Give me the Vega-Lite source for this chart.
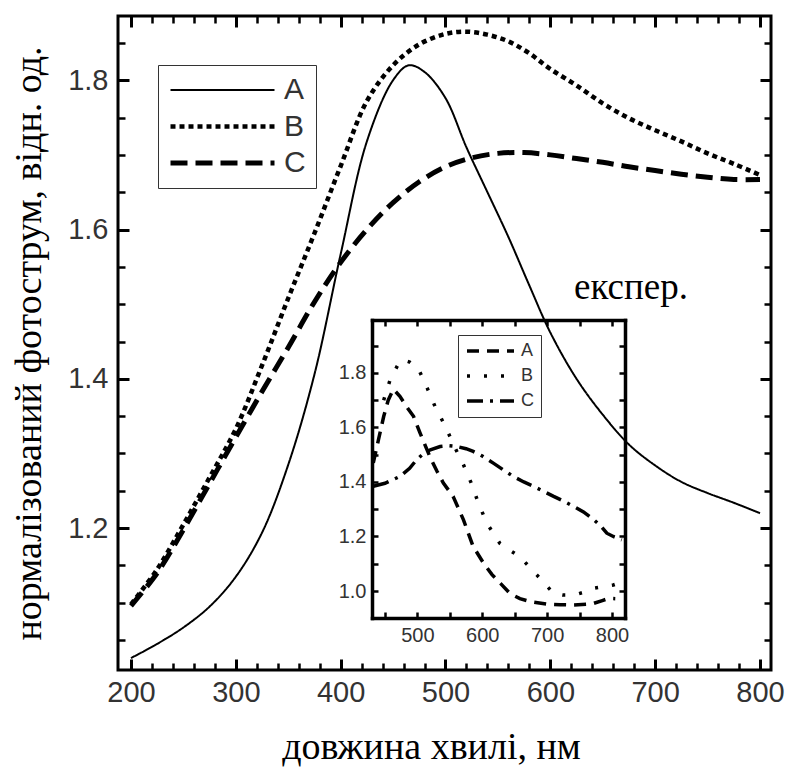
{
  "$schema": "https://vega.github.io/schema/vega-lite/v6.json",
  "autosize": "none",
  "width": 653,
  "height": 654,
  "padding": {"left": 118, "top": 16, "right": 17, "bottom": 99},
  "background": "white",
  "config": {"view": {"stroke": "black", "strokeWidth": 3}},
  "datasets": {
    "main": [
      {"x":200,"y":1.026,"series":"A"},{"x":225,"y":1.045,"series":"A"},{"x":250,"y":1.067,"series":"A"},{"x":275,"y":1.095,"series":"A"},{"x":300,"y":1.135,"series":"A"},{"x":325,"y":1.194,"series":"A"},{"x":350,"y":1.285,"series":"A"},{"x":375,"y":1.406,"series":"A"},{"x":400,"y":1.567,"series":"A"},{"x":425,"y":1.718,"series":"A"},{"x":450,"y":1.80,"series":"A"},{"x":465,"y":1.82,"series":"A"},{"x":480,"y":1.811,"series":"A"},{"x":500,"y":1.776,"series":"A"},{"x":520,"y":1.71,"series":"A"},{"x":540,"y":1.65,"series":"A"},{"x":560,"y":1.59,"series":"A"},{"x":580,"y":1.525,"series":"A"},{"x":600,"y":1.462,"series":"A"},{"x":625,"y":1.40,"series":"A"},{"x":650,"y":1.352,"series":"A"},{"x":675,"y":1.312,"series":"A"},{"x":700,"y":1.284,"series":"A"},{"x":725,"y":1.262,"series":"A"},{"x":750,"y":1.247,"series":"A"},{"x":775,"y":1.234,"series":"A"},{"x":800,"y":1.220,"series":"A"},
      {"x":200,"y":1.098,"series":"B"},{"x":225,"y":1.145,"series":"B"},{"x":250,"y":1.205,"series":"B"},{"x":275,"y":1.268,"series":"B"},{"x":300,"y":1.333,"series":"B"},{"x":325,"y":1.418,"series":"B"},{"x":350,"y":1.508,"series":"B"},{"x":375,"y":1.595,"series":"B"},{"x":400,"y":1.685,"series":"B"},{"x":425,"y":1.772,"series":"B"},{"x":450,"y":1.82,"series":"B"},{"x":475,"y":1.848,"series":"B"},{"x":500,"y":1.862,"series":"B"},{"x":520,"y":1.865,"series":"B"},{"x":540,"y":1.861,"series":"B"},{"x":560,"y":1.852,"series":"B"},{"x":580,"y":1.836,"series":"B"},{"x":600,"y":1.815,"series":"B"},{"x":625,"y":1.793,"series":"B"},{"x":650,"y":1.769,"series":"B"},{"x":675,"y":1.749,"series":"B"},{"x":700,"y":1.733,"series":"B"},{"x":725,"y":1.718,"series":"B"},{"x":750,"y":1.702,"series":"B"},{"x":775,"y":1.688,"series":"B"},{"x":800,"y":1.673,"series":"B"},
      {"x":200,"y":1.096,"series":"C"},{"x":225,"y":1.14,"series":"C"},{"x":250,"y":1.198,"series":"C"},{"x":275,"y":1.26,"series":"C"},{"x":300,"y":1.322,"series":"C"},{"x":325,"y":1.383,"series":"C"},{"x":350,"y":1.442,"series":"C"},{"x":375,"y":1.503,"series":"C"},{"x":400,"y":1.556,"series":"C"},{"x":425,"y":1.60,"series":"C"},{"x":450,"y":1.636,"series":"C"},{"x":475,"y":1.664,"series":"C"},{"x":500,"y":1.684,"series":"C"},{"x":525,"y":1.696,"series":"C"},{"x":550,"y":1.702,"series":"C"},{"x":575,"y":1.703,"series":"C"},{"x":600,"y":1.70,"series":"C"},{"x":625,"y":1.695,"series":"C"},{"x":650,"y":1.69,"series":"C"},{"x":675,"y":1.684,"series":"C"},{"x":700,"y":1.679,"series":"C"},{"x":725,"y":1.674,"series":"C"},{"x":750,"y":1.67,"series":"C"},{"x":775,"y":1.667,"series":"C"},{"x":800,"y":1.667,"series":"C"}
    ],
    "inset": [
      {"x":432,"y":1.47,"series":"A"},{"x":440,"y":1.555,"series":"A"},{"x":448,"y":1.64,"series":"A"},{"x":455,"y":1.70,"series":"A"},{"x":463,"y":1.74,"series":"A"},{"x":473,"y":1.714,"series":"A"},{"x":485,"y":1.67,"series":"A"},{"x":494,"y":1.641,"series":"A"},{"x":504,"y":1.58,"series":"A"},{"x":519,"y":1.494,"series":"A"},{"x":530,"y":1.44,"series":"A"},{"x":540,"y":1.396,"series":"A"},{"x":555,"y":1.347,"series":"A"},{"x":571,"y":1.261,"series":"A"},{"x":586,"y":1.163,"series":"A"},{"x":602,"y":1.102,"series":"A"},{"x":615,"y":1.06,"series":"A"},{"x":628,"y":1.028,"series":"A"},{"x":643,"y":0.99,"series":"A"},{"x":658,"y":0.972,"series":"A"},{"x":674,"y":0.961,"series":"A"},{"x":700,"y":0.952,"series":"A"},{"x":720,"y":0.95,"series":"A"},{"x":741,"y":0.949,"series":"A"},{"x":760,"y":0.951,"series":"A"},{"x":772,"y":0.955,"series":"A"},{"x":785,"y":0.965,"series":"A"},{"x":795,"y":0.973,"series":"A"},{"x":805,"y":0.972,"series":"A"},
      {"x":448,"y":1.70,"series":"B"},{"x":458,"y":1.775,"series":"B"},{"x":470,"y":1.83,"series":"B"},{"x":476,"y":1.849,"series":"B"},{"x":488,"y":1.84,"series":"B"},{"x":501,"y":1.818,"series":"B"},{"x":515,"y":1.745,"series":"B"},{"x":527,"y":1.678,"series":"B"},{"x":543,"y":1.604,"series":"B"},{"x":557,"y":1.53,"series":"B"},{"x":571,"y":1.463,"series":"B"},{"x":584,"y":1.39,"series":"B"},{"x":594,"y":1.322,"series":"B"},{"x":607,"y":1.249,"series":"B"},{"x":627,"y":1.175,"series":"B"},{"x":642,"y":1.15,"series":"B"},{"x":658,"y":1.126,"series":"B"},{"x":684,"y":1.059,"series":"B"},{"x":710,"y":0.991,"series":"B"},{"x":725,"y":0.985,"series":"B"},{"x":741,"y":0.985,"series":"B"},{"x":756,"y":0.995,"series":"B"},{"x":772,"y":1.01,"series":"B"},{"x":787,"y":1.016,"series":"B"},{"x":802,"y":1.022,"series":"B"},{"x":812,"y":1.03,"series":"B"},
      {"x":432,"y":1.384,"series":"C"},{"x":450,"y":1.395,"series":"C"},{"x":473,"y":1.42,"series":"C"},{"x":488,"y":1.45,"series":"C"},{"x":499,"y":1.482,"series":"C"},{"x":510,"y":1.505,"series":"C"},{"x":520,"y":1.518,"series":"C"},{"x":535,"y":1.53,"series":"C"},{"x":548,"y":1.533,"series":"C"},{"x":561,"y":1.53,"series":"C"},{"x":575,"y":1.522,"series":"C"},{"x":586,"y":1.512,"series":"C"},{"x":600,"y":1.495,"series":"C"},{"x":617,"y":1.469,"series":"C"},{"x":632,"y":1.445,"series":"C"},{"x":648,"y":1.42,"series":"C"},{"x":664,"y":1.40,"series":"C"},{"x":679,"y":1.384,"series":"C"},{"x":695,"y":1.365,"series":"C"},{"x":710,"y":1.347,"series":"C"},{"x":725,"y":1.33,"series":"C"},{"x":741,"y":1.31,"series":"C"},{"x":756,"y":1.29,"series":"C"},{"x":772,"y":1.261,"series":"C"},{"x":782,"y":1.24,"series":"C"},{"x":792,"y":1.212,"series":"C"},{"x":802,"y":1.20,"series":"C"},{"x":815,"y":1.188,"series":"C"}
    ],
    "note": [{"x": 677, "y": 1.507, "text": "експер."}]
  },
  "layer": [
    {
      "data": {"name": "main"},
      "mark": {"type": "line", "interpolate": "catmull-rom", "color": "black"},
      "encoding": {
        "x": {"field": "x", "type": "quantitative",
          "scale": {"domain": [187.6, 810.5], "nice": false, "zero": false},
          "axis": {"orient": "bottom", "offset": -11, "values": [200,300,400,500,600,700,800], "tickSize": 11, "tickWidth": 3, "tickColor": "black", "domain": false, "grid": false,
            "labelFont": "Liberation Sans", "labelFontSize": 29, "labelColor": "#333", "labelPadding": 8, "labelFlush": false, "labelOverlap": false,
            "title": "довжина хвилі, нм", "titleX": 313, "titleFont": "Liberation Serif", "titleFontSize": 38, "titleFontWeight": "normal", "titleColor": "black", "titlePadding": 21}},
        "y": {"field": "y", "type": "quantitative",
          "scale": {"domain": [1.010, 1.886], "nice": false, "zero": false},
          "axis": {"orient": "left", "offset": -11, "values": [1.2,1.4,1.6,1.8], "format": ".1f", "tickSize": 11, "tickWidth": 3, "tickColor": "black", "domain": false, "grid": false,
            "labelFont": "Liberation Sans", "labelFontSize": 29, "labelColor": "#333", "labelPadding": 10, "labelFlush": false, "labelOverlap": false,
            "title": "нормалізований фотострум, відн. од.", "titleFont": "Liberation Serif", "titleFontSize": 38, "titleFontWeight": "normal", "titleColor": "black", "titlePadding": 19}},
        "strokeDash": {"field": "series", "type": "nominal",
          "scale": {"domain": ["A","B","C"], "range": [[1,0],[5,4],[17,8]]},
          "legend": {"orient": "none", "legendX": 40, "legendY": 49, "title": null, "symbolType": "stroke", "symbolSize": 10816, "symbolStrokeColor": "black", "clipHeight": 30, "rowPadding": 6.5,
            "labelFont": "Liberation Sans", "labelFontSize": 30, "labelColor": "#333", "labelOffset": 7, "padding": 10, "strokeColor": "#333", "fillColor": "white", "cornerRadius": 0}},
        "strokeWidth": {"field": "series", "type": "nominal",
          "scale": {"type": "ordinal", "domain": ["A","B","C"], "range": [2, 4.5, 5]},
          "legend": {"orient": "none", "legendX": 40, "legendY": 49, "title": null, "symbolType": "stroke", "symbolSize": 10816, "symbolStrokeColor": "black", "clipHeight": 30, "rowPadding": 6.5,
            "labelFont": "Liberation Sans", "labelFontSize": 30, "labelColor": "#333", "labelOffset": 7, "padding": 10, "strokeColor": "#333", "fillColor": "white", "cornerRadius": 0}}
      }
    },
    {
      "data": {"name": "note"},
      "mark": {"type": "text", "font": "Liberation Serif", "fontSize": 37, "align": "center", "baseline": "alphabetic", "color": "black"},
      "encoding": {
        "x": {"field": "x", "type": "quantitative", "scale": {"domain": [187.6, 810.5], "nice": false, "zero": false},
          "axis": {"orient": "top", "offset": -11, "values": [200,300,400,500,600,700,800], "tickSize": 11, "tickWidth": 3, "tickColor": "black", "domain": false, "grid": false, "labels": false, "title": null}},
        "y": {"field": "y", "type": "quantitative", "scale": {"domain": [1.010, 1.886], "nice": false, "zero": false},
          "axis": {"orient": "right", "offset": -11, "values": [1.2,1.4,1.6,1.8], "tickSize": 11, "tickWidth": 3, "tickColor": "black", "domain": false, "grid": false, "labels": false, "title": null}},
        "text": {"field": "text"}
      }
    },
    {
      "data": {"name": "main"},
      "mark": {"type": "point", "opacity": 0},
      "encoding": {
        "x": {"field": "x", "type": "quantitative", "scale": {"domain": [187.6, 810.5], "nice": false, "zero": false},
          "axis": {"orient": "bottom", "offset": -7, "values": [200,220,240,260,280,300,320,340,360,380,400,420,440,460,480,500,520,540,560,580,600,620,640,660,680,700,720,740,760,780,800], "tickSize": 7, "tickWidth": 2.5, "tickColor": "black", "domain": false, "grid": false, "labels": false, "title": null}},
        "y": {"field": "y", "type": "quantitative", "scale": {"domain": [1.010, 1.886], "nice": false, "zero": false},
          "axis": {"orient": "left", "offset": -7, "values": [1.05,1.1,1.15,1.2,1.25,1.3,1.35,1.4,1.45,1.5,1.55,1.6,1.65,1.7,1.75,1.8,1.85], "tickSize": 7, "tickWidth": 2.5, "tickColor": "black", "domain": false, "grid": false, "labels": false, "title": null}}
      }
    },
    {
      "data": {"name": "main"},
      "mark": {"type": "point", "opacity": 0},
      "encoding": {
        "x": {"field": "x", "type": "quantitative", "scale": {"domain": [187.6, 810.5], "nice": false, "zero": false},
          "axis": {"orient": "top", "offset": -7, "values": [200,220,240,260,280,300,320,340,360,380,400,420,440,460,480,500,520,540,560,580,600,620,640,660,680,700,720,740,760,780,800], "tickSize": 7, "tickWidth": 2.5, "tickColor": "black", "domain": false, "grid": false, "labels": false, "title": null}},
        "y": {"field": "y", "type": "quantitative", "scale": {"domain": [1.010, 1.886], "nice": false, "zero": false},
          "axis": {"orient": "right", "offset": -7, "values": [1.05,1.1,1.15,1.2,1.25,1.3,1.35,1.4,1.45,1.5,1.55,1.6,1.65,1.7,1.75,1.8,1.85], "tickSize": 7, "tickWidth": 2.5, "tickColor": "black", "domain": false, "grid": false, "labels": false, "title": null}}
      }
    },
    {
      "data": {"name": "inset"},
      "mark": {"type": "line", "color": "black", "strokeWidth": 3.5},
      "encoding": {
        "x": {"field": "x", "type": "quantitative",
          "scale": {"domain": [430, 820], "range": [254, 507], "nice": false, "zero": false},
          "axis": {"orient": "bottom", "offset": -52, "values": [500,600,700,800], "ticks": false,
            "domain": true, "domainColor": "black", "domainWidth": 3.5, "domainCap": "square", "grid": false,
            "labelFont": "Liberation Sans", "labelFontSize": 20, "labelColor": "#333", "labelPadding": 7, "labelFlush": false, "labelOverlap": false, "title": null}},
        "y": {"field": "y", "type": "quantitative",
          "scale": {"domain": [0.901, 1.994], "range": [602, 304], "nice": false, "zero": false},
          "axis": {"orient": "left", "offset": -254, "values": [1.0,1.2,1.4,1.6,1.8], "format": ".1f", "ticks": false,
            "domain": true, "domainColor": "black", "domainWidth": 3.5, "domainCap": "square", "grid": false,
            "labelFont": "Liberation Sans", "labelFontSize": 20, "labelColor": "#333", "labelPadding": 6, "labelFlush": false, "labelOverlap": false, "title": null}},
        "strokeDash": {"field": "series", "type": "nominal",
          "scale": {"domain": ["A","B","C"], "range": [[12,8],[3,14],[16,7,3,7]]},
          "legend": {"orient": "none", "legendX": 340, "legendY": 319, "title": null, "symbolType": "stroke", "symbolSize": 2209, "symbolStrokeWidth": 3.5, "symbolStrokeColor": "black", "clipHeight": 18, "rowPadding": 7,
            "labelFont": "Liberation Sans", "labelFontSize": 18, "labelColor": "#333", "labelOffset": 5, "padding": 7, "strokeColor": "#333", "fillColor": "white", "cornerRadius": 0}}
      }
    },
    {
      "data": {"name": "inset"},
      "mark": {"type": "point", "opacity": 0},
      "encoding": {
        "x": {"field": "x", "type": "quantitative",
          "scale": {"domain": [430, 820], "range": [254, 507], "nice": false, "zero": false},
          "axis": {"orient": "top", "offset": -304, "ticks": false, "domain": true, "domainColor": "black", "domainWidth": 3.5, "domainCap": "square", "grid": false, "labels": false, "title": null}},
        "y": {"field": "y", "type": "quantitative",
          "scale": {"domain": [0.901, 1.994], "range": [602, 304], "nice": false, "zero": false},
          "axis": {"orient": "right", "offset": -146, "ticks": false, "domain": true, "domainColor": "black", "domainWidth": 3.5, "domainCap": "square", "grid": false, "labels": false, "title": null}}
      }
    },
    {
      "data": {"name": "inset"},
      "mark": {"type": "point", "opacity": 0},
      "encoding": {
        "x": {"field": "x", "type": "quantitative",
          "scale": {"domain": [430, 820], "range": [254, 507], "nice": false, "zero": false},
          "axis": {"orient": "bottom", "offset": -58, "values": [450,500,550,600,650,700,750,800], "tickSize": 6, "tickWidth": 2.5, "tickColor": "black", "domain": false, "grid": false, "labels": false, "title": null}},
        "y": {"field": "y", "type": "quantitative",
          "scale": {"domain": [0.901, 1.994], "range": [602, 304], "nice": false, "zero": false},
          "axis": {"orient": "left", "offset": -260, "values": [1.0,1.1,1.2,1.3,1.4,1.5,1.6,1.7,1.8,1.9], "tickSize": 6, "tickWidth": 2.5, "tickColor": "black", "domain": false, "grid": false, "labels": false, "title": null}}
      }
    },
    {
      "data": {"name": "inset"},
      "mark": {"type": "point", "opacity": 0},
      "encoding": {
        "x": {"field": "x", "type": "quantitative",
          "scale": {"domain": [430, 820], "range": [254, 507], "nice": false, "zero": false},
          "axis": {"orient": "top", "offset": -310, "values": [450,500,550,600,650,700,750,800], "tickSize": 6, "tickWidth": 2.5, "tickColor": "black", "domain": false, "grid": false, "labels": false, "title": null}},
        "y": {"field": "y", "type": "quantitative",
          "scale": {"domain": [0.901, 1.994], "range": [602, 304], "nice": false, "zero": false},
          "axis": {"orient": "right", "offset": -152, "values": [1.0,1.1,1.2,1.3,1.4,1.5,1.6,1.7,1.8,1.9], "tickSize": 6, "tickWidth": 2.5, "tickColor": "black", "domain": false, "grid": false, "labels": false, "title": null}}
      }
    }
  ],
  "resolve": {
    "scale": {"x": "independent", "y": "independent", "strokeDash": "independent", "strokeWidth": "independent"},
    "axis": {"x": "independent", "y": "independent"},
    "legend": {"strokeDash": "independent", "strokeWidth": "independent"}
  }
}
